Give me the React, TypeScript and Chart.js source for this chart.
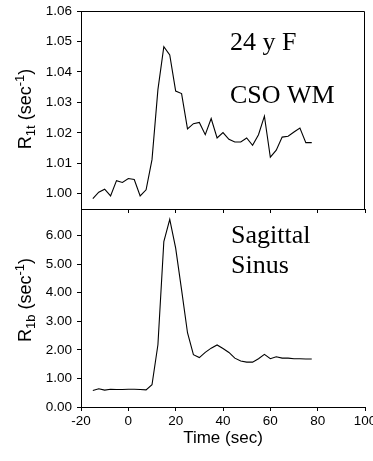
import React, { useEffect, useRef } from 'react';
import { Chart, registerables } from 'chart.js';

Chart.register(...registerables);

// ---- data ----
const times = [-15, -12.5, -10, -7.5, -5, -2.5, 0, 2.5, 5, 7.5, 10, 12.5, 15, 17.5, 20, 22.5, 25, 27.5, 30, 32.5, 35, 37.5, 40, 42.5, 45, 47.5, 50, 52.5, 55, 57.5, 60, 62.5, 65, 67.5, 70, 72.5, 75, 77.5];
const r1tValues = [0.9984, 1.0005, 1.0015, 0.9993, 1.0043, 1.0037, 1.005, 1.0047, 0.9993, 1.0013, 1.0112, 1.0342, 1.0483, 1.0456, 1.0337, 1.0329, 1.0213, 1.023, 1.0234, 1.0194, 1.0247, 1.0183, 1.0201, 1.0179, 1.017, 1.017, 1.0183, 1.0159, 1.0194, 1.0255, 1.012, 1.0143, 1.0186, 1.0189, 1.0203, 1.0216, 1.0168, 1.0168];
const r1bValues = [0.58, 0.64, 0.59, 0.62, 0.61, 0.61, 0.62, 0.62, 0.61, 0.6, 0.78, 2.18, 5.79, 6.57, 5.56, 4.1, 2.6, 1.83, 1.73, 1.91, 2.06, 2.17, 2.05, 1.91, 1.71, 1.61, 1.57, 1.57, 1.69, 1.84, 1.69, 1.76, 1.71, 1.71, 1.69, 1.69, 1.68, 1.68];
const xTicks = [-20, 0, 20, 40, 60, 80, 100];
const topYTicks = [1.0, 1.01, 1.02, 1.03, 1.04, 1.05, 1.06];
const bottomYTicks = [0, 1, 2, 3, 4, 5, 6];
const topNotes = ['24 y F', 'CSO WM'];
const bottomNotes = ['Sagittal', 'Sinus'];
const xTitle = 'Time (sec)';
const topYTitle = [
  { t: 'R', k: 'n' },
  { t: '1t', k: 'sub' },
  { t: ' (sec', k: 'n' },
  { t: '-1', k: 'sup' },
  { t: ')', k: 'n' },
];
const bottomYTitle = [
  { t: 'R', k: 'n' },
  { t: '1b', k: 'sub' },
  { t: ' (sec', k: 'n' },
  { t: '-1', k: 'sup' },
  { t: ')', k: 'n' },
];

const SANS = "'Liberation Sans', Arial, sans-serif";
const SERIF = "'Liberation Serif', 'Times New Roman', serif";
const BLACK = '#000';

function yTitlePlugin(id: string, parts: { t: string; k: string }[], baseX: number, centerY: number) {
  return {
    id,
    afterDraw(chart: any) {
      const ctx = chart.ctx as CanvasRenderingContext2D;
      ctx.save();
      ctx.fillStyle = BLACK;
      ctx.textBaseline = 'alphabetic';
      ctx.textAlign = 'left';
      const fontFor = (k: string) => (k === 'n' ? `18px ${SANS}` : `13px ${SANS}`);
      let total = 0;
      for (const p of parts) {
        ctx.font = fontFor(p.k);
        total += ctx.measureText(p.t).width;
      }
      ctx.translate(baseX, centerY);
      ctx.rotate(-Math.PI / 2);
      let pos = -total / 2;
      for (const p of parts) {
        ctx.font = fontFor(p.k);
        const dy = p.k === 'sub' ? 4 : p.k === 'sup' ? -7 : 0;
        ctx.fillText(p.t, pos, dy);
        pos += ctx.measureText(p.t).width;
      }
      ctx.restore();
    },
  };
}

function notesPlugin(id: string, notes: string[], x: number, baselines: number[]) {
  return {
    id,
    afterDraw(chart: any) {
      const ctx = chart.ctx as CanvasRenderingContext2D;
      ctx.save();
      ctx.fillStyle = BLACK;
      ctx.font = `26px ${SERIF}`;
      ctx.textAlign = 'left';
      ctx.textBaseline = 'alphabetic';
      notes.forEach((n, i) => ctx.fillText(n, x, baselines[i]));
      ctx.restore();
    },
  };
}

const boxPlugin = {
  id: 'boxPlugin',
  afterDraw(chart: any) {
    const { ctx, chartArea } = chart;
    const l = Math.round(chartArea.left) + 0.5;
    const r = Math.round(chartArea.right) - 0.5;
    const t = Math.round(chartArea.top) + 0.5;
    const b = Math.round(chartArea.bottom) + 0.5;
    ctx.save();
    ctx.strokeStyle = BLACK;
    ctx.lineWidth = 1;
    ctx.beginPath();
    ctx.moveTo(l, t);
    ctx.lineTo(r, t);
    ctx.lineTo(r, b);
    ctx.stroke();
    ctx.restore();
  },
};

function makeChart(
  canvas: HTMLCanvasElement,
  values: number[],
  yMin: number,
  yMax: number,
  yTicks: number[],
  padding: any,
  showXLabels: boolean,
  plugins: any[]
) {
  return new Chart(canvas, {
    type: 'line',
    data: {
      datasets: [
        {
          data: times.map((t, i) => ({ x: t, y: values[i] })),
          borderColor: BLACK,
          borderWidth: 1.1,
          pointRadius: 0,
          tension: 0,
          fill: false,
        },
      ],
    },
    options: {
      animation: false,
      responsive: false,
      devicePixelRatio: 1,
      layout: { padding },
      plugins: { legend: { display: false }, tooltip: { enabled: false } },
      scales: {
        x: {
          type: 'linear',
          min: -20,
          max: 100,
          afterBuildTicks: (s: any) => {
            s.ticks = xTicks.map((v) => ({ value: v }));
          },
          afterFit: (s: any) => {
            s.height = showXLabels ? 54 : 0;
            s.paddingLeft = 0;
            s.paddingRight = 0;
          },
          ticks: {
            display: showXLabels,
            autoSkip: false,
            maxRotation: 0,
            padding: 2,
            color: BLACK,
            font: { family: SANS, size: 13.5 },
          },
          grid: { drawOnChartArea: false, tickLength: 4, color: BLACK, lineWidth: 1 },
          border: { display: true, color: BLACK, width: 1 },
          title: {
            display: showXLabels,
            text: xTitle,
            color: BLACK,
            font: { family: SANS, size: 17 },
            padding: { top: 0, bottom: 12 },
          },
        },
        y: {
          type: 'linear',
          min: yMin,
          max: yMax,
          afterBuildTicks: (s: any) => {
            s.ticks = yTicks.map((v) => ({ value: v }));
          },
          afterFit: (s: any) => {
            s.width = 81;
            s.paddingTop = 0;
            s.paddingBottom = 0;
          },
          ticks: {
            padding: 5,
            color: BLACK,
            font: { family: SANS, size: 13.5 },
            callback: (v: any) => Number(v).toFixed(2),
          },
          grid: { drawOnChartArea: false, tickLength: 4, color: BLACK, lineWidth: 1 },
          border: { display: true, color: BLACK, width: 1 },
        },
      },
    },
    plugins,
  } as any);
}

export default function App() {
  const topRef = useRef<HTMLCanvasElement>(null);
  const botRef = useRef<HTMLCanvasElement>(null);

  useEffect(() => {
    const top = makeChart(
      topRef.current!,
      r1tValues,
      0.995,
      1.06,
      topYTicks,
      { left: 0, top: 11, right: 8, bottom: 461 - 209 },
      false,
      [boxPlugin, yTitlePlugin('yTitleTop', topYTitle, 31, 109), notesPlugin('notesTop', topNotes, 230, [50, 103])]
    );
    const bot = makeChart(
      botRef.current!,
      r1bValues,
      0,
      7,
      bottomYTicks,
      { left: 0, top: 207, right: 8, bottom: 0 },
      true,
      [yTitlePlugin('yTitleBot', bottomYTitle, 31, 300), notesPlugin('notesBot', bottomNotes, 231, [243, 273])]
    );
    return () => {
      top.destroy();
      bot.destroy();
    };
  }, []);

  return (
    <div style={{ position: 'absolute', left: 0, top: 0, width: 373, height: 461, background: '#fff' }}>
      <canvas ref={topRef} width={373} height={461} style={{ position: 'absolute', left: 0, top: 0 }} />
      <canvas ref={botRef} width={373} height={461} style={{ position: 'absolute', left: 0, top: 0 }} />
    </div>
  );
}
